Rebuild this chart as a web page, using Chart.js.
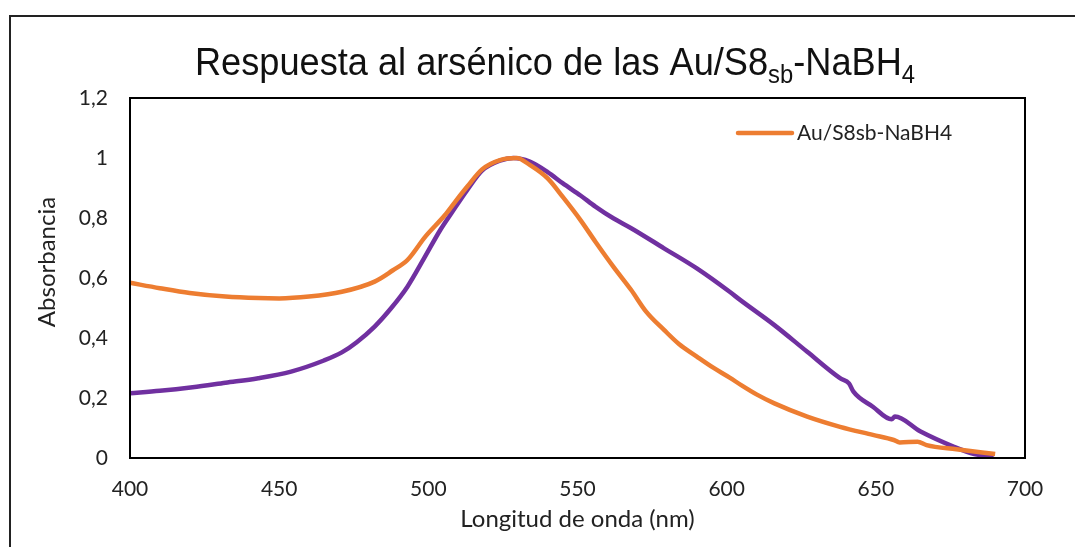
<!DOCTYPE html>
<html>
<head>
<meta charset="utf-8">
<script src="https://cdn.jsdelivr.net/npm/chart.js@4.4.1/dist/chart.umd.min.js"></script>
<style>
  html, body { margin: 0; padding: 0; background: #fff; }
  #wrap { width: 1075px; height: 547px; position: relative; }
</style>
</head>
<body>
<div id="wrap"><canvas id="grafica" width="1075" height="547"></canvas></div>
<script>
// datos (longitud de onda en nm, absorbancia)
const wlNaranja = [400, 410, 420, 432, 443, 450, 460, 471, 482, 488, 493, 499, 505.6, 509, 513, 518, 524, 529.6, 534, 540, 545, 551, 556, 562, 568, 573, 579, 584, 590, 595.5, 601, 605, 610, 616, 627, 638, 649, 656, 658, 664, 667, 677, 690];
const absNaranja = [0.584, 0.566, 0.550, 0.538, 0.533, 0.532, 0.538, 0.554, 0.588, 0.625, 0.660, 0.738, 0.810, 0.854, 0.904, 0.962, 0.993, 1.0, 0.977, 0.932, 0.871, 0.793, 0.721, 0.638, 0.560, 0.488, 0.427, 0.380, 0.338, 0.301, 0.268, 0.242, 0.212, 0.182, 0.138, 0.104, 0.077, 0.060, 0.052, 0.054, 0.043, 0.029, 0.013];

const wlMorada = [400, 410, 421, 432, 443, 454, 465, 471, 476, 482, 487.5, 493, 498.6, 504, 508, 513, 518, 524, 528.5, 534, 540, 545, 551, 556, 562, 568, 579, 590, 601, 604.5, 616, 627, 638, 641, 642.5, 649, 655.3, 656.4, 665, 676, 683, 689.5];
const absMorada = [0.216, 0.224, 0.236, 0.251, 0.266, 0.288, 0.325, 0.352, 0.386, 0.438, 0.499, 0.571, 0.666, 0.760, 0.820, 0.893, 0.958, 0.991, 1.0, 0.988, 0.953, 0.916, 0.875, 0.838, 0.799, 0.766, 0.699, 0.632, 0.554, 0.527, 0.443, 0.354, 0.266, 0.249, 0.221, 0.171, 0.129, 0.138, 0.088, 0.038, 0.013, 0.004];

const xTicks = [400, 450, 500, 550, 600, 650, 700];
const yTicks = [0, 0.2, 0.4, 0.6, 0.8, 1, 1.2];

const etiquetaNaranja = 'Au/S8sb-NaBH4';
const tituloY = 'Absorbancia';
const tituloPartes = [
    { t: 'Respuesta al arsénico de las Au/S8', sub: false },
    { t: 'sb', sub: true },
    { t: '-NaBH', sub: false },
    { t: '4', sub: true }
];

const NARANJA = '#ED7D31';
const MORADO = '#7030A0';
const fuente = 'Lato, "Open Sans", sans-serif';

function aPuntos(xs, ys) {
    return xs.map((x, i) => ({ x: x, y: ys[i] }));
}

// marco exterior, título con subíndices, marco del área, título Y y leyenda
const decoracion = {
    id: 'decoracion',
    beforeDraw(chart) {
        const ctx = chart.ctx;
        ctx.save();
        ctx.fillStyle = '#fff';
        ctx.fillRect(0, 0, chart.width, chart.height);
        ctx.strokeStyle = '#222';
        ctx.lineWidth = 2;
        ctx.beginPath();
        ctx.moveTo(10, chart.height);
        ctx.lineTo(10, 16);
        ctx.lineTo(chart.width, 16);
        ctx.stroke();

        // título
        const fMain = '38px "Liberation Sans", Arial, sans-serif';
        const fSub = '25px "Liberation Sans", Arial, sans-serif';
        let total = 0;
        tituloPartes.forEach(p => {
            ctx.font = p.sub ? fSub : fMain;
            total += ctx.measureText(p.t).width;
        });
        const ancho = 720;
        const sx = Math.min(1, ancho / total);
        ctx.translate(195, 0);
        ctx.scale(sx, 1);
        ctx.fillStyle = '#111';
        ctx.textBaseline = 'alphabetic';
        let x = 0;
        tituloPartes.forEach(p => {
            ctx.font = p.sub ? fSub : fMain;
            ctx.fillText(p.t, x, p.sub ? 83 : 75);
            x += ctx.measureText(p.t).width;
        });
        ctx.restore();

        // título del eje Y (algo por encima del centro, como en el original)
        ctx.save();
        ctx.translate(47, 262);
        ctx.rotate(-Math.PI / 2);
        ctx.fillStyle = '#222';
        ctx.font = '24px ' + fuente;
        ctx.textAlign = 'center';
        ctx.textBaseline = 'middle';
        ctx.fillText(tituloY, 0, 0);
        ctx.restore();
    },
    afterDraw(chart) {
        const ctx = chart.ctx;
        const a = chart.chartArea;
        ctx.save();
        ctx.strokeStyle = '#000';
        ctx.lineWidth = 2;
        ctx.strokeRect(a.left, a.top, a.right - a.left, a.bottom - a.top);

        // leyenda (solo la serie naranja)
        const ly = a.top + 35;
        ctx.strokeStyle = NARANJA;
        ctx.lineWidth = 4.5;
        ctx.lineCap = 'round';
        ctx.beginPath();
        ctx.moveTo(a.right - 287, ly);
        ctx.lineTo(a.right - 233, ly);
        ctx.stroke();
        ctx.fillStyle = '#222';
        ctx.font = '21px ' + fuente;
        ctx.textBaseline = 'middle';
        ctx.fillText(etiquetaNaranja, a.right - 228, ly);
        ctx.restore();
    }
};

const ctx = document.getElementById('grafica').getContext('2d');
new Chart(ctx, {
    type: 'line',
    data: {
        datasets: [
            {
                label: etiquetaNaranja,
                data: aPuntos(wlNaranja, absNaranja),
                borderColor: NARANJA,
                borderWidth: 4.5,
                pointRadius: 0,
                cubicInterpolationMode: 'monotone',
                clip: 8
            },
            {
                label: '',
                data: aPuntos(wlMorada, absMorada),
                borderColor: MORADO,
                borderWidth: 4.5,
                pointRadius: 0,
                cubicInterpolationMode: 'monotone',
                clip: 8
            }
        ]
    },
    options: {
        responsive: false,
        animation: false,
        devicePixelRatio: 1,
        layout: { padding: { left: 10, top: 98, right: 50, bottom: 0 } },
        plugins: {
            legend: { display: false },
            tooltip: { enabled: false }
        },
        scales: {
            x: {
                type: 'linear',
                min: 400,
                max: 700,
                afterBuildTicks: axis => { axis.ticks = xTicks.map(v => ({ value: v })); },
                afterFit: axis => { axis.height = 89; },
                grid: { display: false, drawTicks: false },
                border: { display: false },
                ticks: {
                    padding: 19,
                    color: '#222',
                    font: { family: fuente, size: 21 },
                    maxRotation: 0
                },
                title: {
                    display: true,
                    text: 'Longitud de onda (nm)',
                    color: '#222',
                    font: { family: fuente, size: 24 },
                    padding: { top: 0, bottom: 13 }
                }
            },
            y: {
                min: 0,
                max: 1.2,
                afterBuildTicks: axis => { axis.ticks = yTicks.map(v => ({ value: v })); },
                afterFit: axis => { axis.width = 120; },
                grid: { display: false, drawTicks: false },
                border: { display: false },
                ticks: {
                    padding: 22,
                    color: '#222',
                    font: { family: fuente, size: 21 },
                    callback: v => String(Math.round(v * 10) / 10).replace('.', ',')
                },
                title: { display: false }
            }
        }
    },
    plugins: [decoracion]
});
</script>
</body>
</html>
